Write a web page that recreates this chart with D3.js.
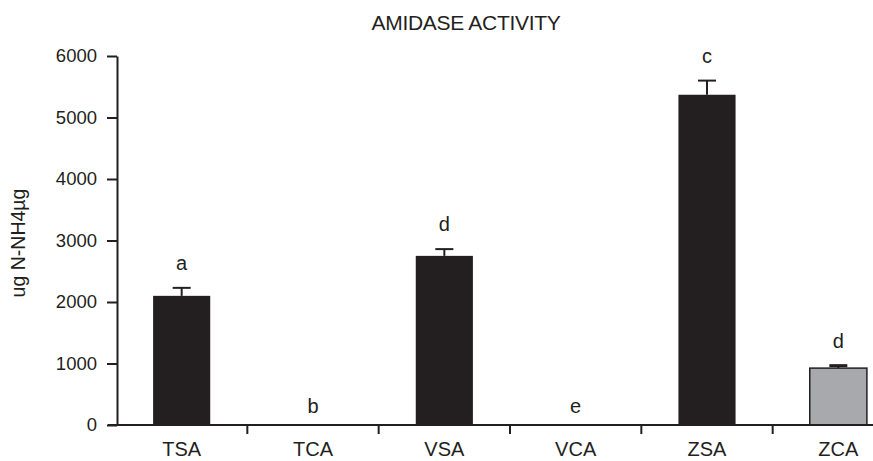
<!DOCTYPE html>
<html lang="en">
<head>
  <meta charset="UTF-8">
  <title>Amidase activity</title>
  <style>
    body { margin: 0; background: #fff; }
    text { font-family: "Liberation Sans", Arial, sans-serif; fill: #231f20; }
  </style>
</head>
<body>
  <svg id="svg" width="873" height="461"></svg>
  <script src="https://d3js.org/d3.v7.min.js"></script>
  <script>
    const categories = ['TSA', 'TCA', 'VSA', 'VCA', 'ZSA', 'ZCA']
    const values = [2100, 0, 2750, 0, 5370, 925]
    const errors = [130, 0, 110, 0, 230, 40]
    const letters = ['a', 'b', 'd', 'e', 'c', 'd']
    const fills = ['#231f20', '#231f20', '#231f20', '#231f20', '#231f20', '#a7a9ac']
    const yTicks = [0, 1000, 2000, 3000, 4000, 5000, 6000]

    const svg = d3.select('#svg')
    const ink = '#231f20'

    const x = d3.scaleBand().domain(categories).range([116, 904]).paddingInner(0.565).paddingOuter(0.2825)
    const xb = d3.scaleBand().domain(categories).range([116, 904]) // for tick positions
    const y = d3.scaleLinear().domain([0, 6000]).range([425, 56])

    // title
    svg.append('text')
      .attr('x', 466).attr('y', 30)
      .attr('text-anchor', 'middle')
      .style('font-size', '21px')
      .style('letter-spacing', '-0.3px')
      .text('AMIDASE ACTIVITY')

    // y label
    svg.append('text')
      .attr('transform', 'translate(25,243) rotate(-90)')
      .attr('text-anchor', 'middle')
      .style('font-size', '19.5px')
      .text('ug N-NH4µg')

    // bars
    svg.selectAll('rect.bar')
      .data(categories)
      .enter()
      .append('rect')
      .attr('class', 'bar')
      .attr('x', d => x(d))
      .attr('width', x.bandwidth())
      .attr('y', (d, i) => y(values[i]))
      .attr('height', (d, i) => y(0) - y(values[i]))
      .attr('fill', (d, i) => fills[i])
      .attr('stroke', ink)
      .attr('stroke-width', (d, i) => i === 5 ? 1.5 : 0)

    // error bars
    const err = svg.selectAll('g.err')
      .data(categories.filter((d, i) => errors[i] > 0))
      .enter()
      .append('g')
      .attr('stroke', ink)
      .attr('stroke-width', 2)
    err.append('line')
      .attr('x1', d => x(d) + x.bandwidth() / 2)
      .attr('x2', d => x(d) + x.bandwidth() / 2)
      .attr('y1', d => y(values[categories.indexOf(d)]))
      .attr('y2', d => { const i = categories.indexOf(d); return y(values[i] + errors[i]) })
    err.append('line')
      .attr('x1', d => x(d) + x.bandwidth() / 2 - 9)
      .attr('x2', d => x(d) + x.bandwidth() / 2 + 9)
      .attr('y1', d => { const i = categories.indexOf(d); return y(values[i] + errors[i]) })
      .attr('y2', d => { const i = categories.indexOf(d); return y(values[i] + errors[i]) })
      .attr('stroke-width', d => categories.indexOf(d) === 5 ? 3 : 2)

    // letters
    svg.selectAll('text.letter')
      .data(categories)
      .enter()
      .append('text')
      .attr('class', 'letter')
      .attr('x', d => x(d) + x.bandwidth() / 2)
      .attr('y', (d, i) => y(values[i] + errors[i]) - (errors[i] > 0 ? 18 : 12))
      .attr('text-anchor', 'middle')
      .style('font-size', '20px')
      .text((d, i) => letters[i])

    // y axis
    const yAxis = svg.append('g')
      .attr('transform', 'translate(117,0)')
      .call(d3.axisLeft(y).tickValues(yTicks).tickSize(10).tickSizeOuter(0).tickPadding(10).tickFormat(d3.format('d')))
    yAxis.selectAll('line, path').attr('stroke', ink).attr('stroke-width', 2)
    yAxis.selectAll('text').style('font-size', '18.5px').attr('fill', ink)

    // x axis
    const xAxis = svg.append('g')
      .attr('transform', 'translate(0,425)')
    xAxis.append('line')
      .attr('x1', 108).attr('x2', 904)
      .attr('stroke', ink).attr('stroke-width', 2)
    xAxis.selectAll('line.tick')
      .data(categories.slice(1))
      .enter()
      .append('line')
      .attr('x1', d => xb(d)).attr('x2', d => xb(d))
      .attr('y1', 0).attr('y2', 9)
      .attr('stroke', ink).attr('stroke-width', 2)
    xAxis.selectAll('text')
      .data(categories)
      .enter()
      .append('text')
      .attr('x', d => xb(d) + xb.bandwidth() / 2)
      .attr('y', 31)
      .attr('text-anchor', 'middle')
      .style('font-size', '20px')
      .text(d => d)
  </script>
</body>
</html>
